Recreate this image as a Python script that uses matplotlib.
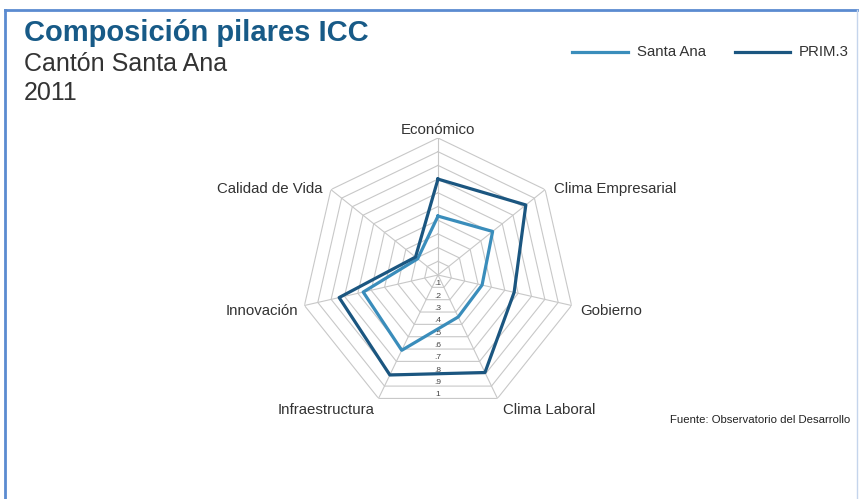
import numpy as np
import matplotlib
matplotlib.use('Agg')
import matplotlib.pyplot as plt
from matplotlib.lines import Line2D

plt.rcParams['font.family'] = ['Liberation Sans', 'DejaVu Sans']

categories = ['Económico', 'Clima Empresarial', 'Gobierno', 'Clima Laboral',
              'Infraestructura', 'Innovación', 'Calidad de Vida']
santa_ana = [0.43, 0.51, 0.33, 0.34, 0.61, 0.56, 0.19]
prim3 = [0.70, 0.82, 0.57, 0.79, 0.81, 0.74, 0.21]
levels = [0.1, 0.2, 0.3, 0.4, 0.5, 0.6, 0.7, 0.8, 0.9, 1.0]
level_labels = ['.1', '.2', '.3', '.4', '.5', '.6', '.7', '.8', '.9', '1']

c_light = '#3a8dbb'
c_dark = '#1b5680'

W, H = 859, 499
fig = plt.figure(figsize=(W/100, H/100), dpi=100)

# frame (left, top, right)
fig.add_artist(Line2D([5/W, 5/W], [0, 1-10/H], color='#5b8bd0', lw=2))
fig.add_artist(Line2D([5/W, 857/W], [1-10/H, 1-10/H], color='#5b8bd0', lw=2))
fig.add_artist(Line2D([857/W, 857/W], [0, 1-10/H], color='#c5d5ec', lw=1))

fig.text(24/W, 1-41/H, 'Composición pilares ICC', fontsize=21, fontweight='bold',
         color='#175a87', va='baseline')
fig.text(24/W, 1-71/H, 'Cantón Santa Ana', fontsize=18, color='#333333', va='baseline')
fig.text(24/W, 1-100/H, '2011', fontsize=18, color='#333333', va='baseline')

# radar
cx, cy, R = 438, 275, 137
ax = fig.add_axes([(cx-R)/W, (H-cy-R)/H, 2*R/W, 2*R/H], projection='polar')
ax.set_theta_offset(np.pi/2)
ax.set_theta_direction(-1)
ax.set_axis_off()
ax.set_ylim(0, 1)

n = len(categories)
theta = np.linspace(0, 2*np.pi, n, endpoint=False)
tc = np.append(theta, theta[0])

for lv in levels:
    ax.plot(tc, [lv]*(n+1), color='#c8c8c8', lw=0.8, zorder=1)
for t in theta:
    ax.plot([t, t], [0, 1], color='#c8c8c8', lw=0.8, zorder=1)

for lv, lab in zip(levels, level_labels):
    ax.text(np.pi, lv*np.cos(np.pi/n), lab, fontsize=6, color='#444444',
            ha='center', va='bottom', zorder=2)

ax.plot(tc, santa_ana + santa_ana[:1], color=c_light, lw=2.3, zorder=3)
ax.plot(tc, prim3 + prim3[:1], color=c_dark, lw=2.3, zorder=4)

offsets = [(0, 1, 'center', 'bottom'), (9, 1, 'left', 'center'), (9, -6, 'left', 'center'),
           (6, -12, 'left', 'center'), (-4, -12, 'right', 'center'), (-6, -6, 'right', 'center'),
           (-8, 1, 'right', 'center')]
for t, lab, (dx, dy, ha, va) in zip(theta, categories, offsets):
    ax.annotate(lab, (t, 1), xytext=(dx, dy), textcoords='offset pixels',
                ha=ha, va=va, fontsize=10.8, color='#333333', annotation_clip=False)

# legend
fig.add_artist(Line2D([572/W, 628/W], [1-52/H]*2, color=c_light, lw=2.3))
fig.text(637/W, 1-52/H, 'Santa Ana', fontsize=10.8, color='#333333', va='center')
fig.add_artist(Line2D([735/W, 790/W], [1-52/H]*2, color=c_dark, lw=2.3))
fig.text(799/W, 1-52/H, 'PRIM.3', fontsize=10.8, color='#333333', va='center')

fig.text(850/W, 1-420/H, 'Fuente: Observatorio del Desarrollo', fontsize=8.2,
         color='#222222', ha='right', va='center')

fig.savefig('out.png', dpi=100)
